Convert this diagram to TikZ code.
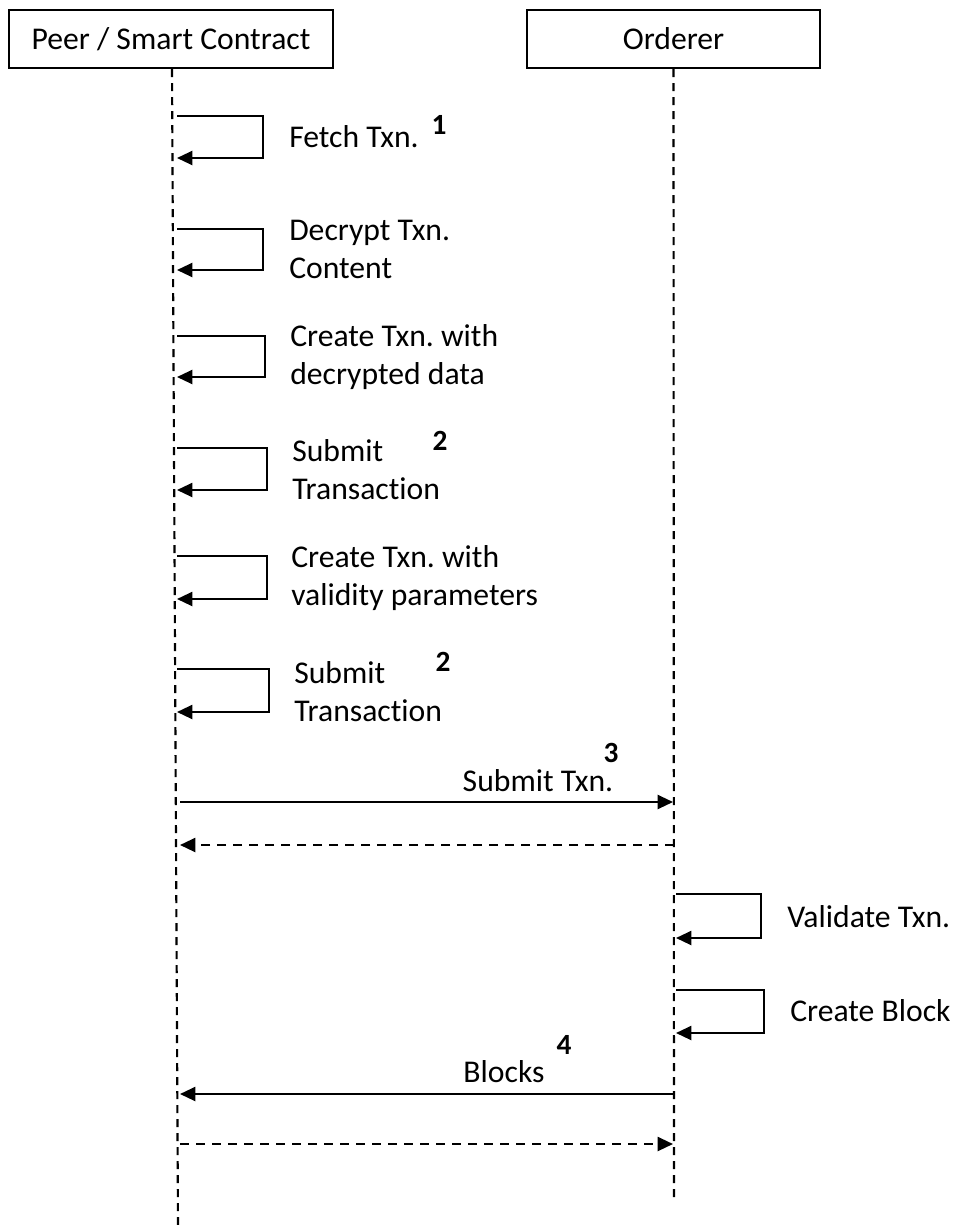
\documentclass[tikz,border=0pt]{standalone}
\usepackage{fontspec}
\setmainfont{Carlito}[Ligatures=NoCommon]
\usetikzlibrary{arrows.meta}
\newcommand\txtsize{\fontsize{23.75}{28.5}\selectfont\frenchspacing}
\newcommand\digitsize{\fontsize{22}{26}\selectfont}
\begin{document}
\begin{tikzpicture}[x=0.75pt, y=-0.75pt,
  actor/.style={draw, line width=1.6pt, minimum height=43.5pt, inner sep=0pt, font=\txtsize},
  lifeline/.style={line width=1.6pt, dash pattern=on 6pt off 4.5pt},
  msg/.style={line width=1.6pt, -{Triangle[length=11.5pt,width=10.5pt]}},
  reply/.style={msg, dash pattern=on 7pt off 5pt},
  lbl/.style={font=\txtsize, inner sep=0pt, anchor=west, align=left},
  num/.style={font=\digitsize\bfseries, inner sep=0pt}]
\useasboundingbox (0,0) rectangle (956,1225);

% participants
\node[actor, minimum width=243pt] (peer) at (171,39) {Peer / Smart Contract};
\node[actor, minimum width=219.75pt] (ord) at (673.5,39) {Orderer};

% lifelines
\coordinate (peerEnd) at (178,1225);
\coordinate (ordEnd) at (674,1203);
\draw[lifeline] ([xshift=0.75pt]peer.south) -- (peerEnd);
\draw[lifeline] (ord.south) -- (ordEnd);

% self calls on the peer
\foreach \i/\t/\b/\r in {1/116/158/263, 2/229/270/263, 3/336/377/265,
                         4/448/490/267, 5/556/599/267, 6/669/712/269} {
  \coordinate (ps\i) at (177,\t);
  \coordinate (pe\i) at (177,\b);
  \draw[msg] (ps\i) -- ++(\r-177,0) |- (pe\i);
}
\node[lbl] (t1) at (289,137) {Fetch Txn.};
\node[lbl] (t2) at (289,249) {Decrypt Txn.\\Content};
\node[lbl] (t3) at (290,357) {Create Txn. with\\decrypted data};
\node[lbl] (t4) at (292,470) {Submit\\Transaction};
\node[lbl] (t5) at (291,578) {Create Txn. with\\validity parameters};
\node[lbl] (t6) at (294,692) {Submit\\Transaction};
\node[num] (n1) at (439,125) {1};
\node[num] (n2a) at (440,441) {2};
\node[num] (n2b) at (443,662) {2};

% submit to orderer and acknowledgement
\coordinate (pSub) at (180,802);
\coordinate (oSub) at (673,802);
\coordinate (oAck) at (674,845);
\coordinate (pAck) at (180,845);
\draw[msg] (pSub) -- (oSub);
\draw[reply] (oAck) -- (pAck);
\node[font=\txtsize, inner sep=0pt] (t7) at (538,781) {Submit Txn.};
\node[num] (n3) at (611,753) {3};

% self calls on the orderer
\foreach \i/\t/\b/\r in {7/894/938/761, 8/990/1033/764} {
  \coordinate (os\i) at (676,\t);
  \coordinate (oe\i) at (676,\b);
  \draw[msg] (os\i) -- ++(\r-676,0) |- (oe\i);
}
\node[lbl] (t8) at (787,917) {Validate Txn.};
\node[lbl] (t9) at (790,1011) {Create Block};

% blocks delivered to the peer and acknowledgement
\coordinate (oBlk) at (674,1094);
\coordinate (pBlk) at (180,1094);
\coordinate (pAck2) at (180,1144);
\coordinate (oAck2) at (673,1144);
\draw[msg] (oBlk) -- (pBlk);
\draw[reply] (pAck2) -- (oAck2);
\node[font=\txtsize, inner sep=0pt] (t10) at (504,1072) {Blocks};
\node[num] (n4) at (564,1045) {4};
\end{tikzpicture}
\end{document}
